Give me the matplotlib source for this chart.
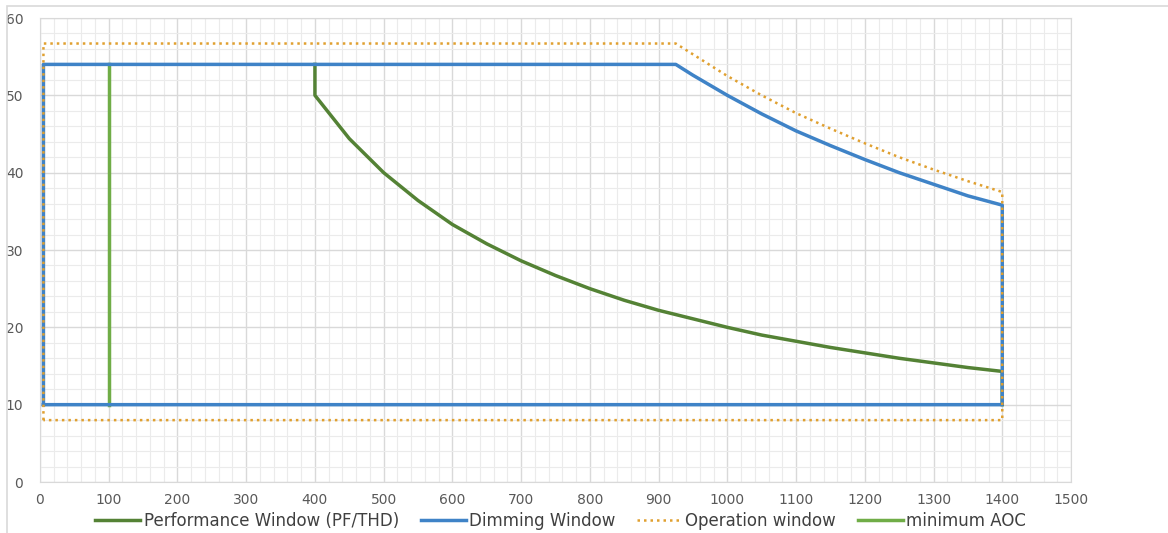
import matplotlib
matplotlib.use("Agg")
import matplotlib.pyplot as plt
from matplotlib.ticker import MultipleLocator
from matplotlib.patches import Rectangle

# Performance window (PF/THD)
perf_x = [400, 400, 450, 500, 550, 600, 650, 700, 750, 800, 850, 900, 950,
          1000, 1050, 1100, 1150, 1200, 1250, 1300, 1350, 1400, 1400]
perf_y = [54, 50, 44.4, 40, 36.4, 33.3, 30.8, 28.6, 26.7, 25, 23.5, 22.2, 21.1,
          20, 19.0, 18.2, 17.4, 16.7, 16.0, 15.4, 14.8, 14.3, 10]

# Dimming window
dim_x = [5, 5, 925, 950, 1000, 1050, 1100, 1150, 1200, 1250, 1300, 1350, 1400, 1400, 5]
dim_y = [10, 54, 54, 52.6, 50, 47.6, 45.4, 43.5, 41.7, 40, 38.5, 37.0, 35.8, 10, 10]

# Operation window
op_x = [5, 5, 925, 950, 1000, 1050, 1100, 1150, 1200, 1250, 1300, 1350, 1400, 1400, 5]
op_y = [8, 56.7, 56.7, 55.3, 52.5, 50.0, 47.7, 45.7, 43.8, 42.0, 40.4, 38.9, 37.5, 8, 8]

# minimum AOC
aoc_x = [100, 100]
aoc_y = [10, 54]

fig = plt.figure(figsize=(11.68, 5.33), dpi=100)
ax = fig.add_axes([40 / 1168, 1 - 482 / 533, (1071 - 40) / 1168, (482 - 18) / 533])

# chart area border (excel style)
fig.patches.append(Rectangle((7 / 1168, -0.1), 1.2, 1 - 6 / 533 + 0.1,
                             transform=fig.transFigure, fill=False,
                             edgecolor="#d9d9d9", linewidth=1.2))

ax.plot(perf_x, perf_y, color="#548235", lw=2.5, label="Performance Window (PF/THD)", zorder=3)
ax.plot(dim_x, dim_y, color="#3f83c7", lw=2.5, label="Dimming Window", zorder=4)
ax.plot(op_x, op_y, color="#e0a030", lw=1.8, ls=(0, (1, 1.6)), label="Operation window", zorder=5)
ax.plot(aoc_x, aoc_y, color="#70ad47", lw=2.5, label="minimum AOC", zorder=3)

ax.set_xlim(0, 1500)
ax.set_ylim(0, 60)
ax.xaxis.set_major_locator(MultipleLocator(100))
ax.xaxis.set_minor_locator(MultipleLocator(20))
ax.yaxis.set_major_locator(MultipleLocator(10))
ax.yaxis.set_minor_locator(MultipleLocator(2))
ax.grid(which="major", color="#d9d9d9", lw=1.0)
ax.grid(which="minor", color="#ebebeb", lw=0.8)
ax.set_axisbelow(True)

for s in ax.spines.values():
    s.set_color("#d9d9d9")
ax.tick_params(which="both", length=0, colors="#595959", labelsize=10)
ax.tick_params(axis="x", pad=8)
ax.tick_params(axis="y", pad=12)

leg = fig.legend(loc="center", bbox_to_anchor=(0.48, 1 - 521 / 533), ncol=4,
                 frameon=False, fontsize=12, handlelength=2.7, handletextpad=0.2,
                 columnspacing=1.3, borderaxespad=0, borderpad=0)
for t in leg.get_texts():
    t.set_color("#404040")

fig.savefig("out.png", dpi=100)
